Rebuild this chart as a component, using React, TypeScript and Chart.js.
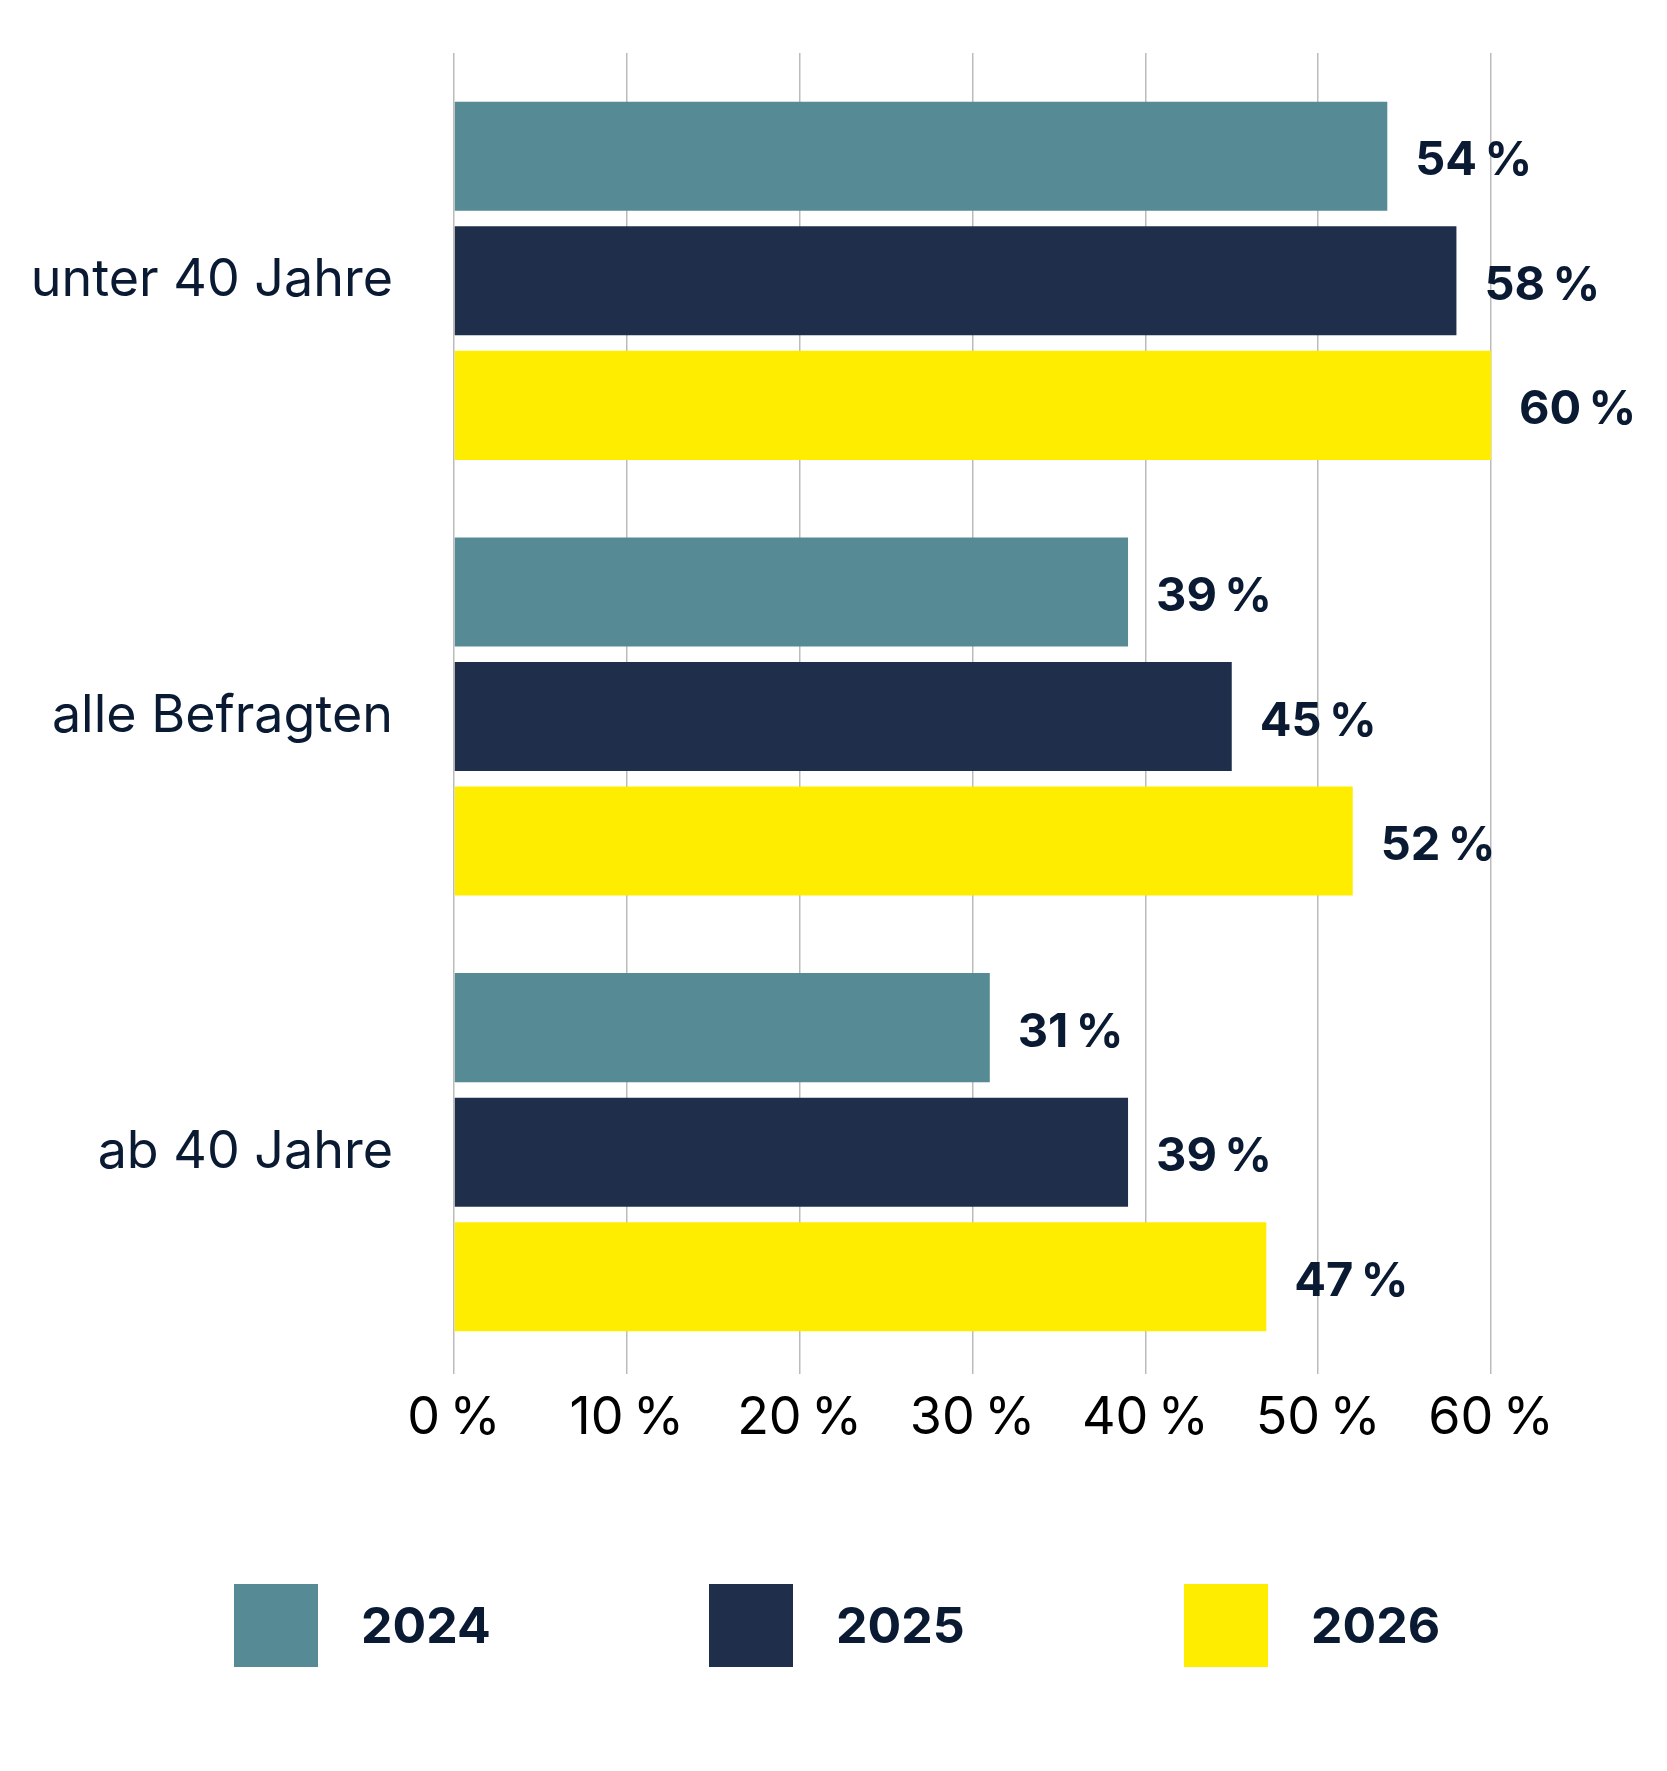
import { useEffect, useRef } from 'react';
import { Chart, registerables } from 'chart.js';

Chart.register(...registerables);

// ---- data ----
const categories = ['unter 40 Jahre', 'alle Befragten', 'ab 40 Jahre'];
const seriesLabels = ['2024', '2025', '2026'];
const values2024 = [54, 39, 31];
const values2025 = [58, 45, 39];
const values2026 = [60, 52, 47];
const xTickValues = [0, 10, 20, 30, 40, 50, 60];

// ---- styles ----
const seriesColors = ['#568A95', '#1F2F4B', '#FFED00'];
const FONT = 'Inter, "Noto Sans", sans-serif';
const TEXT = '#0A1A33';
const GRID = '#BBBBBB';
const pct = (v: number | string) => `${v}\u202F%`;

const valueLabels = {
  id: 'valueLabels',
  afterDatasetsDraw(chart: any) {
    const ctx = chart.ctx;
    ctx.save();
    ctx.font = `bold 47px ${FONT}`;
    ctx.fillStyle = TEXT;
    ctx.textAlign = 'left';
    ctx.textBaseline = 'alphabetic';
    chart.data.datasets.forEach((ds: any, i: number) => {
      const meta = chart.getDatasetMeta(i);
      meta.data.forEach((bar: any, j: number) => {
        ctx.fillText(pct(ds.data[j]), bar.x + 28, bar.y + 19);
      });
    });
    ctx.restore();
  },
};

const customLegend = {
  id: 'customLegend',
  afterDraw(chart: any) {
    const ctx = chart.ctx;
    ctx.save();
    ctx.font = `bold 50px ${FONT}`;
    const boxW = 84;
    const boxH = 83;
    const gapText = 43;
    const pitch = 475;
    const itemW = 249;
    const cx = chart.width / 2;
    const top = chart.height - 187;
    const n = chart.data.datasets.length;
    chart.data.datasets.forEach((ds: any, i: number) => {
      const x = cx + (i - (n - 1) / 2) * pitch - itemW / 2;
      ctx.fillStyle = ds.backgroundColor;
      ctx.fillRect(x, top, boxW, boxH);
      ctx.fillStyle = TEXT;
      ctx.textAlign = 'left';
      ctx.textBaseline = 'alphabetic';
      ctx.fillText(ds.label, x + boxW + gapText, top + 59);
    });
    ctx.restore();
  },
};

export default function App() {
  const canvasRef = useRef<HTMLCanvasElement | null>(null);

  useEffect(() => {
    if (!canvasRef.current) return;
    const setTicks = (s: any) => {
      s.ticks = xTickValues.map((v) => ({ value: v }));
    };
    const chart = new Chart(canvasRef.current, {
      type: 'bar',
      data: {
        labels: categories,
        datasets: [values2024, values2025, values2026].map((vals, i) => ({
          label: seriesLabels[i],
          data: vals,
          backgroundColor: seriesColors[i],
          borderWidth: 0,
          categoryPercentage: 0.8576,
          barPercentage: 0.8755,
        })),
      },
      options: {
        indexAxis: 'y',
        responsive: true,
        maintainAspectRatio: false,
        animation: false,
        layout: { padding: { top: 53, right: 176, bottom: 0, left: 0 } },
        plugins: {
          legend: { display: false },
          tooltip: { enabled: false },
          title: { display: false },
        },
        scales: {
          x: {
            type: 'linear',
            position: 'bottom',
            min: 0,
            max: 60,
            afterBuildTicks: setTicks,
            grid: { color: GRID, lineWidth: 1.5, drawTicks: true, tickLength: 4 },
            border: { display: false },
            ticks: {
              padding: 13,
              color: '#000000',
              font: { family: FONT, size: 52 },
              callback: (v: any) => pct(v),
            },
            afterFit: (s: any) => {
              s.height = 401;
            },
          },
          x2: {
            type: 'linear',
            axis: 'x',
            position: 'top',
            min: 0,
            max: 60,
            afterBuildTicks: setTicks,
            grid: { color: GRID, lineWidth: 1.5, drawOnChartArea: false, drawTicks: true, tickLength: 10 },
            border: { display: false },
            ticks: { display: false },
            afterFit: (s: any) => {
              s.height = 10;
              s.paddingLeft = 0;
              s.paddingRight = 0;
            },
          },
          y: {
            type: 'category',
            grid: { display: false, drawTicks: false },
            border: { display: false },
            ticks: {
              padding: 61,
              color: TEXT,
              font: { family: FONT, size: 52 },
            },
            afterFit: (s: any) => {
              s.width = 454;
              s.paddingTop = 0;
              s.paddingBottom = 0;
            },
          },
        },
      } as any,
      plugins: [valueLabels, customLegend],
    });
    return () => chart.destroy();
  }, []);

  return (
    <div style={{ position: 'absolute', left: 0, top: 0, width: 1667, height: 1771, background: '#fff' }}>
      <canvas ref={canvasRef} />
    </div>
  );
}
